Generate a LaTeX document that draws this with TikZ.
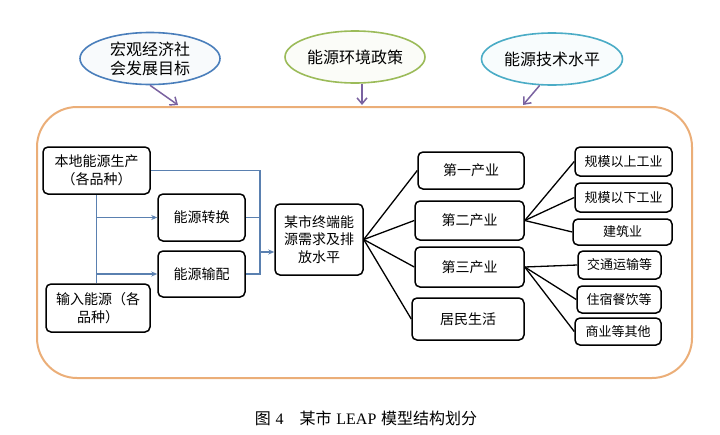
\documentclass[tikz,border=0pt]{standalone}
\usepackage{fontspec}
\setmainfont{Noto Sans CJK SC}
\newfontfamily\latinfont{Liberation Serif}
\usepackage{tikz}
\usetikzlibrary{shapes.geometric, arrows.meta, positioning, calc}
\definecolor{goalblue}{HTML}{4A7EBB}
\definecolor{goalgreen}{HTML}{9BBB59}
\definecolor{goalteal}{HTML}{4BACC6}
\definecolor{pointer}{HTML}{7A62A0}
\definecolor{flowblue}{HTML}{5A80B0}
\definecolor{frameorange}{HTML}{EBAE78}
\tikzset{
  % Goal ellipses
  goal/.style={
    ellipse, draw=#1, fill=#1!4, line width=1.6pt,
    minimum width=140pt, minimum height=52pt, inner sep=0pt,
    align=center, font=\fontsize{16}{19}\selectfont,
  },
  goal/.default={goalblue},
  % Boxes
  box/.style={
    rectangle, rounded corners=5pt, draw=black, fill=white,
    line width=1.5pt, inner sep=0pt, align=center,
    font=\fontsize{14}{17.5}\selectfont,
  },
  subbox/.style={box, font=\fontsize{13}{15}\selectfont},
  % Frame
  modelframe/.style={
    rectangle, rounded corners=40pt, draw=frameorange,
    line width=2pt, inner sep=0pt,
  },
  % Connectors
  flowline/.style={draw=flowblue, line width=1.2pt},
  flowarrow/.style={-{Stealth[length=6pt,width=5pt]}, flowline},
  fanline/.style={draw=black, line width=1.3pt},
  goalarrow/.style={-{Straight Barb[length=6pt,width=10pt]}, draw=pointer, line width=1.5pt},
}

\begin{document}
\begin{tikzpicture}[x=1pt, y=-1pt]
  \useasboundingbox (0,0) rectangle (720,434);

  % Goals
  \node[goal=goalblue] (e1) at (150,58.5) {宏观经济社\\会发展目标};
  \node[goal=goalgreen] (e2) at (355,57) {能源环境政策};
  \node[goal=goalteal, minimum width=141pt] (e3) at (552,59) {能源技术水平};

  % Frame
  \node[modelframe, minimum width=655pt, minimum height=271pt] (frame) at (364.5,242.5) {};

  \coordinate (g1) at (178,105);
  \coordinate (g2) at (362,105);
  \coordinate (g3) at (523,105);
  \draw[goalarrow] (e1.south) -- (g1);
  \draw[goalarrow] (e2.south -| g2) -- (g2);
  \draw[goalarrow] (e3.245) -- (g3);

  % Supply side
  \node[box, minimum width=107pt, minimum height=47pt] (src) at (96.5,170.5) {本地能源生产\\（各品种）};
  \node[box, minimum width=104pt, minimum height=48pt] (imp) at (98,308) {输入能源（各\\品种）};
  \node[box, minimum width=87pt, minimum height=47pt] (conv) at (201.5,217.5) {能源转换};
  \node[box, minimum width=87pt, minimum height=46pt] (dist) at (201.5,274) {能源输配};

  % Demand
  \node[box, minimum width=88pt, minimum height=71pt] (dem) at (319,239.5) {某市终端能\\源需求及排\\放水平};

  % Sectors
  \node[box, minimum width=106pt, minimum height=37pt] (s1) at (471,170.5) {第一产业};
  \node[box, minimum width=109pt, minimum height=39pt] (s2) at (469.5,220.5) {第二产业};
  \node[box, minimum width=109pt, minimum height=40pt] (s3) at (469.5,267) {第三产业};
  \node[box, minimum width=112pt, minimum height=42pt] (res) at (468,319) {居民生活};

  % Sub-sectors
  \node[subbox, minimum width=97pt, minimum height=29pt] (i1) at (623.5,161.5) {规模以上工业};
  \node[subbox, minimum width=97pt, minimum height=29pt] (i2) at (623.5,197.5) {规模以下工业};
  \node[subbox, minimum width=99pt, minimum height=26pt] (i3) at (622.5,232) {建筑业};
  \node[subbox, minimum width=83pt, minimum height=28pt] (t1) at (619.5,265) {交通运输等};
  \node[subbox, minimum width=84pt, minimum height=27pt] (t2) at (619,299.5) {住宿餐饮等};
  \node[subbox, minimum width=86pt, minimum height=27pt] (t3) at (618,331.5) {商业等其他};

  % Supply connectors
  \draw[flowline] (src.south) -- (src.south |- imp.north);
  \draw[flowarrow] (src.south |- conv.west) -- (conv.west);
  \draw[flowarrow] (src.south |- dist.west) -- (dist.west);
  \coordinate (bus) at (260,252);
  \draw[flowline] (src.east) -| (bus);
  \draw[flowline] (conv.east) -| (bus);
  \draw[flowline] (dist.east) -| (bus);
  \draw[flowarrow] (bus) -- (bus -| dem.west);

  % Demand fan
  \foreach \s in {s1,s2,s3,res}
    \draw[fanline] (dem.east) -- (\s.west);
  \foreach \i in {i1,i2,i3}
    \draw[fanline] (s2.east) -- (\i.west);
  \foreach \t in {t1,t2,t3}
    \draw[fanline] (s3.east) -- (\t.west);

  % Caption
  \node[font=\fontsize{16}{19}\selectfont] (cap) at (366,418)
    {图\hspace{0.3em}{\latinfont 4}\hspace{1em}某市\hspace{0.3em}{\latinfont LEAP}\hspace{0.3em}模型结构划分};
\end{tikzpicture}
\end{document}
